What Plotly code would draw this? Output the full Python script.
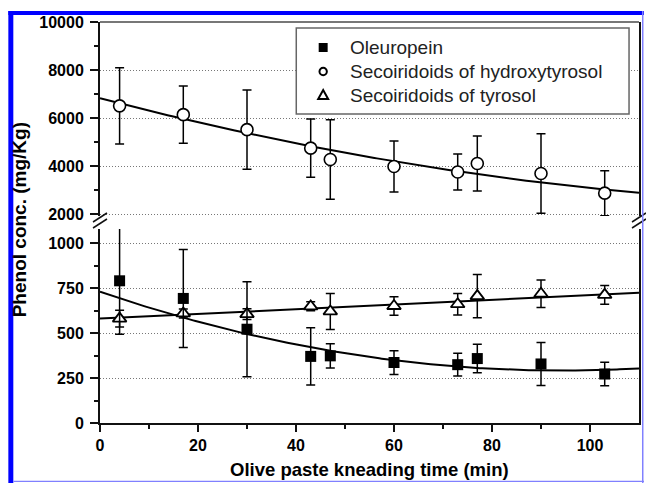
import numpy as np
import plotly.graph_objects as go

# Kneading time (min)
time = [4, 17, 30, 43, 47, 60, 73, 77, 90, 103]

# Phenol concentrations (mg/Kg) with standard deviations
oleuropein = [790, 692, 521, 370, 373, 336, 324, 358, 328, 272]
oleuropein_sd = [297, 272, 264, 159, 67, 66, 63, 79, 119, 65]

hydroxytyrosol = [6506, 6139, 5515, 4744, 4271, 3980, 3750, 4104, 3687, 2869]
hydroxytyrosol_sd = [1590, 1195, 1652, 1215, 1658, 1062, 750, 1146, 1659, 938]

tyrosol = [580, 609, 605, 648, 620, 650, 660, 705, 718, 712]
tyrosol_sd = [47, 25, 30, 25, 100, 52, 60, 120, 77, 52]

names = ["Oleuropein", "Secoiridoids of hydroxytyrosol", "Secoiridoids of tyrosol"]

x_ticks = [0, 20, 40, 60, 80, 100]
y_low_ticks = [0, 250, 500, 750, 1000]
y_high_ticks = [2000, 4000, 6000, 8000, 10000]

W, H = 646, 483
ML, MR, MT, MB = 100, 5, 22, 60
PW, PH = W - ML - MR, H - MT - MB


def px(xp):
    return (xp - ML) / PW


def py(yp):
    return (H - MB - yp) / PH


FONT = "Liberation Sans"
fig = go.Figure()

# second-order regression curves, weighted by 1/SD^2
xf = np.linspace(0, 110, 221)


def fit(y, sd, axis):
    c = np.polyfit(time, y, 2, w=1.0 / np.asarray(sd, float))
    fig.add_trace(go.Scatter(x=xf, y=np.polyval(c, xf), mode="lines",
                             line=dict(color="black", width=2),
                             yaxis=axis, showlegend=False, hoverinfo="skip"))


fit(hydroxytyrosol, hydroxytyrosol_sd, "y2")
fit(oleuropein, oleuropein_sd, "y")
fit(tyrosol, tyrosol_sd, "y")

err = dict(type="data", thickness=1.5, width=4.5, color="black")


def points(y, sd, axis, symbol, size, lw):
    fig.add_trace(go.Scatter(
        x=time, y=y, mode="markers", yaxis=axis, showlegend=False,
        error_y=dict(array=sd, **err),
        marker=dict(symbol=symbol, size=size, color="white" if lw else "black",
                    line=dict(color="black", width=lw))))


points(hydroxytyrosol, hydroxytyrosol_sd, "y2", "circle", 12, 1.6)
points(tyrosol, tyrosol_sd, "y", "triangle-up", 12, 1.8)
points(oleuropein, oleuropein_sd, "y", "square", 11, 0)

tickfont = dict(family=FONT, size=16, color="black", weight="bold")
axis_common = dict(showline=True, linecolor="#111", linewidth=2, ticks="outside",
                   tickwidth=1.5, tickcolor="#111", zeroline=False,
                   tickfont=tickfont, tickmode="array")
grid = dict(showgrid=True, gridcolor="#777", gridwidth=1, griddash="1px,2px")
minor = dict(ticklen=4, tickwidth=1.5, tickcolor="#111", ticks="outside")

fig.update_layout(
    width=W, height=H,
    margin=dict(l=ML, r=MR, t=MT, b=MB),
    paper_bgcolor="white", plot_bgcolor="white",
    showlegend=False,
    xaxis=dict(range=[0, 110], tickvals=x_ticks, ticktext=[str(v) for v in x_ticks],
               showgrid=False, ticklen=7,
               minor=dict(tickvals=[10, 30, 50, 70, 90], **minor), **axis_common),
    yaxis=dict(domain=[0, py(229)], range=[0, (H - MB - 229) / 0.18],
               tickvals=y_low_ticks, ticktext=[str(v) for v in y_low_ticks],
               mirror=True, ticklabelstandoff=3, ticklen=8,
               minor=dict(tickvals=[125, 375, 625, 875], **minor),
               **grid, **axis_common),
    yaxis2=dict(domain=[py(216), 1], range=[2000 - (216 - 214) * 2000 / 48, 10000],
                anchor="x",
                tickvals=y_high_ticks, ticktext=[str(v) for v in y_high_ticks],
                mirror=True, ticklabelstandoff=3, ticklen=8,
                minor=dict(tickvals=[3000, 5000, 7000, 9000], **minor),
                **grid, **axis_common),
)

shapes = []
# legend frame
shapes.append(dict(type="rect", xref="paper", yref="paper", x0=px(297), x1=px(631),
                   y0=py(28), y1=py(114), line=dict(color="#666", width=1.5),
                   fillcolor="white", layer="above"))
# legend symbols
lx = 324
rows = [47.5, 71.5, 95]
s = 4.5
shapes.append(dict(type="rect", xref="paper", yref="paper",
                   x0=px(lx - s), x1=px(lx + s), y0=py(rows[0] + s), y1=py(rows[0] - s),
                   fillcolor="black", line=dict(width=0), layer="above"))
r = 3.7
shapes.append(dict(type="circle", xref="paper", yref="paper",
                   x0=px(lx - r), x1=px(lx + r), y0=py(rows[1] + r), y1=py(rows[1] - r),
                   fillcolor="white", line=dict(color="black", width=2), layer="above"))
ty = rows[2]
shapes.append(dict(type="path", xref="paper", yref="paper",
                   path=f"M{px(lx - 5)},{py(ty + 4)} L{px(lx + 5)},{py(ty + 4)} "
                        f"L{px(lx)},{py(ty - 5)} Z",
                   fillcolor="white", line=dict(color="black", width=2), layer="above"))
for name, yy in zip(names, rows):
    fig.add_annotation(text=name, xref="paper", yref="paper", x=px(349), y=py(yy),
                       xanchor="left", yanchor="middle", showarrow=False,
                       font=dict(family=FONT, size=19, color="#222"))

# top frame line
shapes.append(dict(type="line", xref="paper", yref="paper", x0=0, x1=1, y0=1, y1=1,
                   line=dict(color="#777", width=2), layer="above"))
# axis break marks, left and right
for xc in (ML, ML + PW):
    for dy in (0, 6):
        shapes.append(dict(type="line", xref="paper", yref="paper",
                           x0=px(xc - 7), y0=py(222 + dy), x1=px(xc + 7), y1=py(213 + dy),
                           line=dict(color="#111", width=1.5), layer="above"))
# page border
blue = "#0000ff"
light = "#8080ff"
shapes += [
    dict(type="rect", xref="paper", yref="paper", x0=px(8), x1=px(13), y0=py(483), y1=py(11),
         fillcolor=blue, line=dict(width=0), layer="above"),
    dict(type="rect", xref="paper", yref="paper", x0=px(8), x1=px(646), y0=py(15), y1=py(11),
         fillcolor=blue, line=dict(width=0), layer="above"),
    dict(type="rect", xref="paper", yref="paper", x0=px(644), x1=px(645.5), y0=py(483), y1=py(11),
         fillcolor=light, line=dict(width=0), layer="above"),
    dict(type="rect", xref="paper", yref="paper", x0=px(13), x1=px(646), y0=py(482), y1=py(480.8),
         fillcolor=light, line=dict(width=0), layer="above"),
]
fig.update_layout(shapes=shapes)

fig.add_annotation(text="Phenol conc. (mg/Kg)", xref="paper", yref="paper",
                   x=px(19), y=py(220), textangle=-90, showarrow=False,
                   xanchor="center", yanchor="middle",
                   font=dict(family=FONT, size=19, color="black", weight="bold"))
fig.add_annotation(text="Olive paste kneading time (min)", xref="paper", yref="paper",
                   x=px(370), y=py(469), showarrow=False,
                   xanchor="center", yanchor="middle",
                   font=dict(family=FONT, size=18.5, color="black", weight="bold"))

fig.write_html("out.html")
